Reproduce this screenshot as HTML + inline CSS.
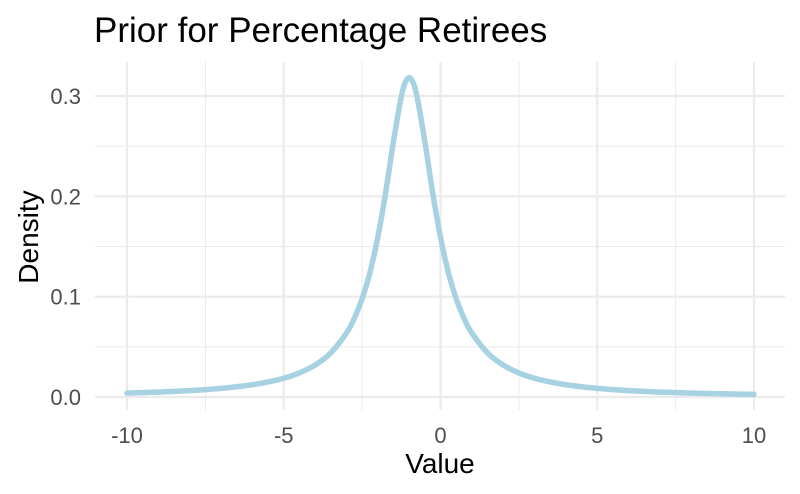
<!DOCTYPE html>
<html><head><meta charset="utf-8"><style>
body{margin:0;background:#fff;}
svg{display:block;font-family:"Liberation Sans",sans-serif;}
</style></head><body>
<svg id="chart" width="800" height="494" viewBox="0 0 800 494">
<g id="grid"></g>
<g id="ticks"></g>
<path id="curve" fill="none" stroke="#a6d2e1" stroke-width="5.5" stroke-linejoin="round" stroke-linecap="round"/>
<text x="94" y="42" font-size="35" fill="#000">Prior for Percentage Retirees</text>
<text x="440" y="473" font-size="28" text-anchor="middle" fill="#000">Value</text>
<text transform="translate(38,237) rotate(-90)" font-size="28" text-anchor="middle" fill="#000">Density</text>
</svg>
<script>
const xs=[-10,-9.5,-9,-8.5,-8,-7.5,-7,-6.5,-6,-5.5,-5,-4.5,-4,-3.5,-3,-2.75,-2.5,-2.25,-2,-1.75,-1.5,-1.25,-1.125,-1,-0.875,-0.75,-0.5,-0.25,0,0.25,0.5,0.75,1,1.5,2,2.5,3,3.5,4,4.5,5,5.5,6,6.5,7,7.5,8,8.5,9,9.5,10];
const ys=[0.0039,0.0044,0.0049,0.0056,0.0064,0.0074,0.0086,0.0102,0.0122,0.0150,0.0187,0.0240,0.0318,0.0439,0.0637,0.0784,0.0979,0.1242,0.1592,0.2037,0.2547,0.2996,0.3134,0.3183,0.3134,0.2996,0.2547,0.2037,0.1592,0.1242,0.0979,0.0784,0.0637,0.0439,0.0318,0.0240,0.0187,0.0150,0.0122,0.0102,0.0086,0.0074,0.0064,0.0056,0.0049,0.0044,0.0039,0.0035,0.0032,0.0029,0.0026];
const xMajor=[-10,-5,0,5,10];
const xMinor=[-7.5,-2.5,2.5,7.5];
const yMajor=[0,0.1,0.2,0.3];
const yMinor=[0.05,0.15,0.25];
const xLabels=["-10","-5","0","5","10"];
const yLabels=["0.0","0.1","0.2","0.3"];
const L=95,R=785,T=62,B=410;
const sx=v=>127+(v+10)*(754-127)/20;
const sy=v=>397-v*(397-96)/0.3;
const NS="http://www.w3.org/2000/svg";
const grid=document.getElementById('grid'),ticks=document.getElementById('ticks');
function line(x1,y1,x2,y2,w,name){const l=document.createElementNS(NS,'line');
l.setAttribute('x1',x1);l.setAttribute('y1',y1);l.setAttribute('x2',x2);l.setAttribute('y2',y2);
l.setAttribute('stroke','#ebebeb');l.setAttribute('stroke-width',w);


grid.appendChild(l);}
yMinor.forEach(v=>line(L,sy(v),R,sy(v),1.1,'y-minor-gridline'));
xMinor.forEach(v=>line(sx(v),T,sx(v),B,1.1,'x-minor-gridline'));
yMajor.forEach(v=>line(L,sy(v),R,sy(v),2.2,'y-major-gridline'));
xMajor.forEach(v=>line(sx(v),T,sx(v),B,2.2,'x-major-gridline'));
function txt(x,y,s,anchor,name){const t=document.createElementNS(NS,'text');
t.setAttribute('x',x);t.setAttribute('y',y);t.setAttribute('text-anchor',anchor);
t.setAttribute('font-size','22');t.setAttribute('fill','#4d4d4d');t.textContent=s;


ticks.appendChild(t);}
xMajor.forEach((v,i)=>txt(sx(v),443,xLabels[i],'middle','x-tick-label'));
yMajor.forEach((v,i)=>txt(81,sy(v)+8,yLabels[i],'end','y-tick-label'));
const P=xs.map((x,i)=>[sx(x),sy(ys[i])]);
let d='M'+P[0][0]+','+P[0][1];
for(let i=0;i<P.length-1;i++){const p0=P[Math.max(0,i-1)],p1=P[i],p2=P[i+1],p3=P[Math.min(P.length-1,i+2)];
const c1=[p1[0]+(p2[0]-p0[0])/6,p1[1]+(p2[1]-p0[1])/6],c2=[p2[0]-(p3[0]-p1[0])/6,p2[1]-(p3[1]-p1[1])/6];
d+=' C'+c1+' '+c2+' '+p2;}
document.getElementById('curve').setAttribute('d',d);
</script>
</body></html>
